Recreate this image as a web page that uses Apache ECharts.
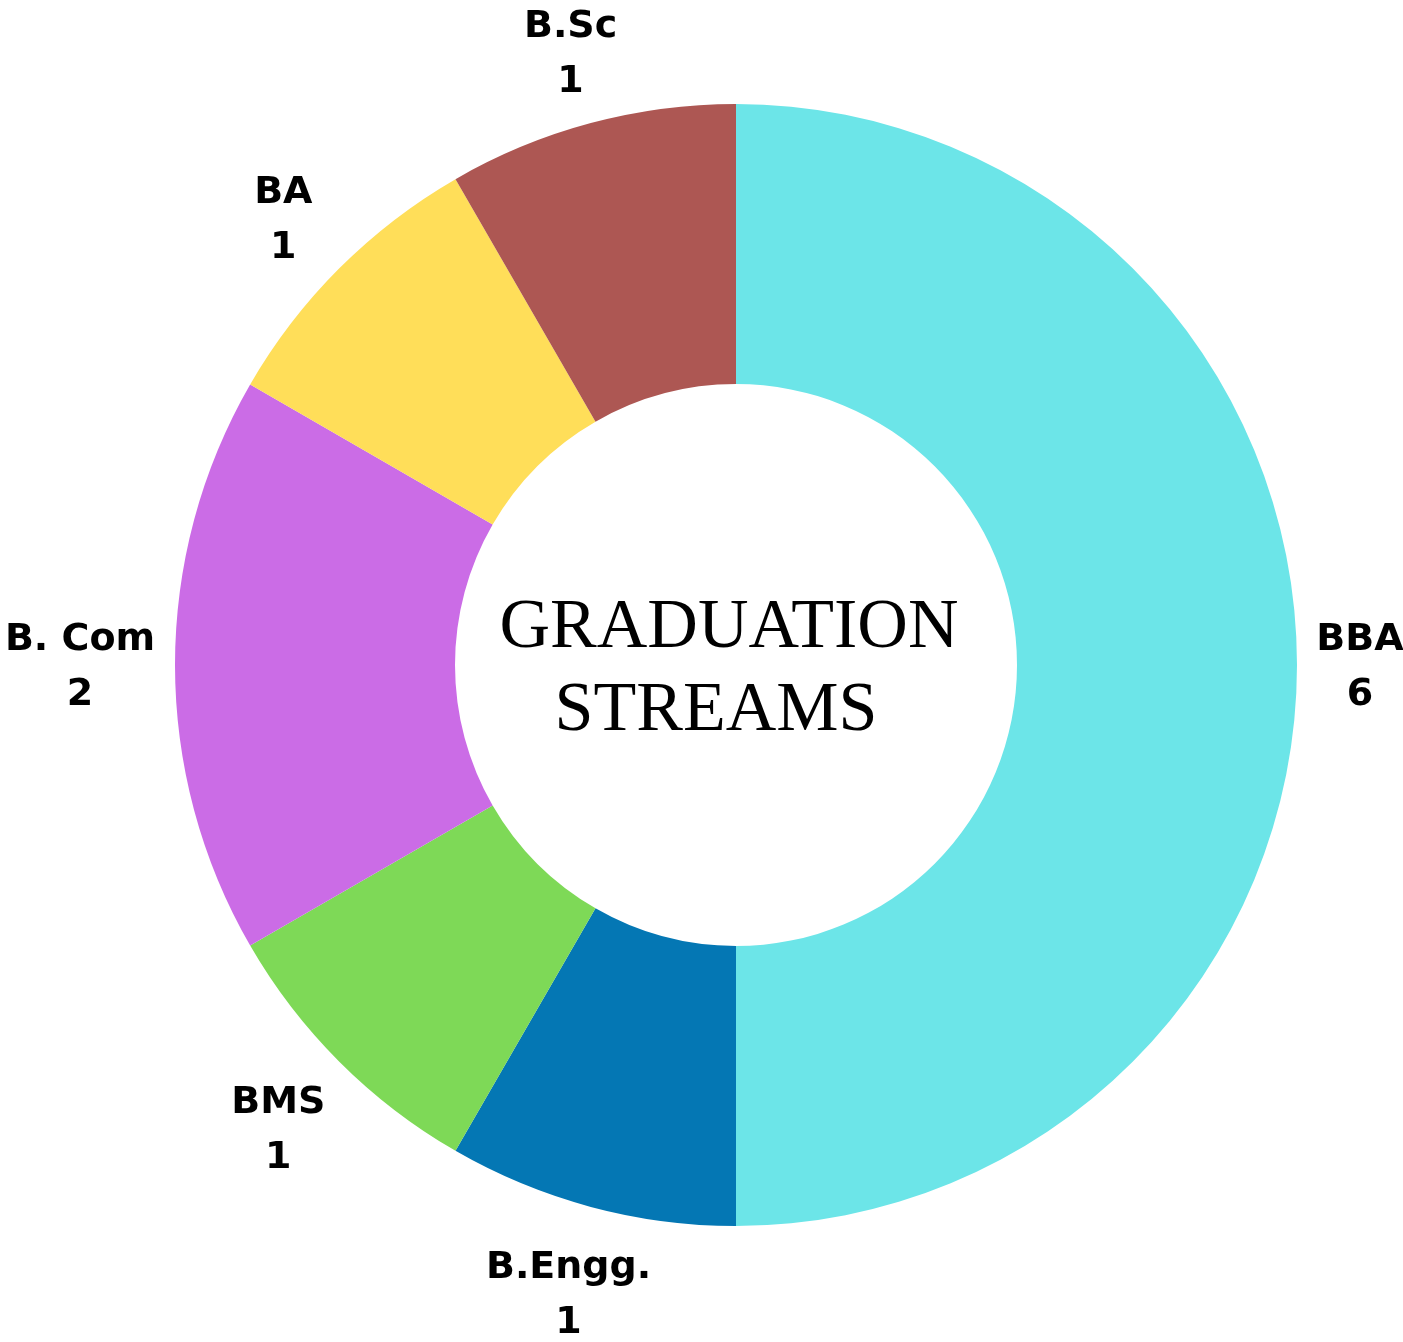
<!DOCTYPE html>
<html>
<head>
<meta charset="utf-8">
<script src="https://cdn.jsdelivr.net/npm/echarts@6/dist/echarts.min.js"></script>
<style>
html,body{margin:0;padding:0;background:#ffffff;}
#chart{width:1403px;height:1342px;}
</style>
</head>
<body>
<div id="chart"></div>
<script>
// Data
var categories = ['BBA', 'B.Engg.', 'BMS', 'B. Com', 'BA', 'B.Sc'];
var counts = [6, 1, 1, 2, 1, 1];
var colors = ['#6CE5E8', '#0477B4', '#7ED957', '#CB6CE6', '#FFDE59', '#AD5753'];
var centerTitleLines = ['GRADUATION', 'STREAMS'];

// small per-label nudges (layout only)
var labelNudge = [[-19, 3], [-1, 10], [-3, 11], [-13, 3], [2, 10], [1, 11]];

var pieData = categories.map(function (c, i) {
  return { name: c, value: counts[i], itemStyle: { color: colors[i] } };
});
var labelData = categories.map(function (c, i) {
  return { name: c, value: counts[i], label: { offset: labelNudge[i] } };
});

var titleStyle = {
  fontFamily: 'Liberation Serif',
  fontWeight: 'normal',
  fontSize: 70,
  lineHeight: 83,
  color: '#000000'
};

var chart = echarts.init(document.getElementById('chart'));
chart.setOption({
  backgroundColor: '#ffffff',
  animation: false,
  title: [
    { text: centerTitleLines[0], left: 724, top: 582, textAlign: 'center', textStyle: titleStyle },
    { text: centerTitleLines[1], left: 711, top: 665, textAlign: 'center', textStyle: titleStyle }
  ],
  series: [
    {
      type: 'pie',
      center: [736, 665],
      radius: [281, 561],
      startAngle: 90,
      clockwise: true,
      silent: true,
      label: { show: false },
      labelLine: { show: false },
      itemStyle: { borderWidth: 0 },
      data: pieData
    },
    {
      type: 'pie',
      center: [736, 665],
      radius: [600, 680],
      startAngle: 90,
      clockwise: true,
      silent: true,
      itemStyle: { color: 'rgba(0,0,0,0)', borderWidth: 0 },
      label: {
        show: true,
        position: 'inside',
        formatter: '{b}\n{c}',
        fontFamily: 'DejaVu Sans',
        fontWeight: 'bold',
        fontSize: 38,
        lineHeight: 55,
        color: '#000000',
        align: 'center'
      },
      labelLine: { show: false },
      data: labelData
    }
  ]
});
</script>
</body>
</html>
